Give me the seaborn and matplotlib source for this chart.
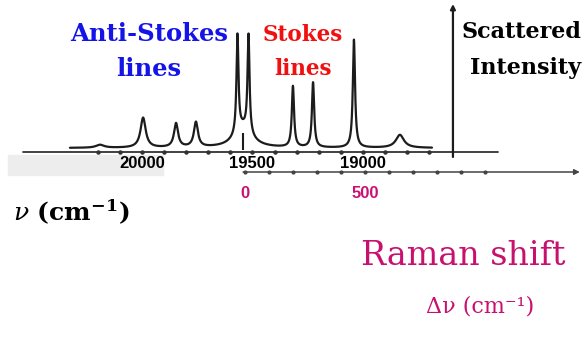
import numpy as np
import pandas as pd
import matplotlib
matplotlib.use("Agg")
import matplotlib.pyplot as plt
import seaborn as sns
from matplotlib.patches import Rectangle

# ---------------- data ----------------
# peaks of the spectrum: wavenumber (cm-1), height above baseline, half width (cm-1)
peak_centers = [20190, 19995, 19846, 19756, 19568, 19518, 19543, 19317, 19226, 19041, 18833]
peak_heights = [3, 30, 24, 25, 98, 98, 20, 61, 65, 108, 13]
peak_hwhm = [22, 14, 11, 11, 5.4, 5.4, 45, 6, 6, 6, 22]
baseline_level = 4
spectrum_range = [20326, 18688]          # wavenumber range covered by the trace
rayleigh_line = 19543                    # laser line (Raman shift 0)

top_tick_values = [20000, 19500, 19000]
top_tick_labels = ["20000", "19500", "19000"]
top_minor = list(range(20200, 18600, -100))
raman_tick_values = [0, 500]
raman_tick_labels = ["0", "500"]
raman_minor = list(range(0, 1100, 100))

# ---------------- build trace ----------------
nu = np.linspace(spectrum_range[0], spectrum_range[1], 4000)
inten = np.full_like(nu, baseline_level, dtype=float)
for c, h, w in zip(peak_centers, peak_heights, peak_hwhm):
    inten += h / (1 + ((nu - c) / w) ** 2)
df = pd.DataFrame({"nu": nu, "I": inten})

# ---------------- figure ----------------
sns.set_theme(style="white")
plt.rcParams['font.family'] = ['DejaVu Serif', 'DejaVu Sans']
plt.rcParams['mathtext.fontset'] = 'dejavuserif'

W, H = 587, 348
fig = plt.figure(figsize=(W / 100, H / 100), dpi=100)
fig.patch.set_facecolor("white")

def P(x, y):
    return (x / W, 1 - y / H)

ax = fig.add_axes([0, 0, 1, 1])
ax.patch.set_alpha(0)
k = 0.221  # px per cm-1 on the absolute scale
ax.set_xlim(20000 + 142 / k, 20000 - (W - 142) / k)
ax.set_ylim(-(H - 152), 152)
ax.axis("off")

# background band behind left tick labels
ax.add_patch(Rectangle((8 / W, 1 - 175 / H), (163 - 8) / W, 20 / H,
                       transform=ax.transAxes, color="#ededed", zorder=0))

ax2 = fig.add_axes([0, 0, 1, 1])
ax2.patch.set_alpha(0)
k2 = 0.24  # px per cm-1 on Raman shift scale
ax2.set_xlim(-245 / k2, (W - 245) / k2)
ax2.set_ylim(-(H - 152), 152)
ax2.axis("off")

dark = "#1c1c1c"
# absolute wavenumber axis
ax.plot([20538, 18389], [0, 0], color="#333333", lw=1.3, zorder=2)
ax.plot(top_minor, [0] * len(top_minor), "o", color="#333333", ms=2.2, zorder=3)
# spectrum
sns.lineplot(data=df, x="nu", y="I", ax=ax, color=dark, linewidth=1.6,
             sort=False, estimator=None, zorder=4)
ax.vlines(rayleigh_line, 2, 19, color=dark, lw=1.5, zorder=4)
# intensity axis
ax.annotate("", xy=(18593, 148), xytext=(18593, -5),
            arrowprops=dict(arrowstyle="-|>", color=dark, lw=1.6,
                            mutation_scale=7, shrinkA=0, shrinkB=0))
for v, lab in zip(top_tick_values, top_tick_labels):
    ax.text(v, -12, lab, ha="center", va="center", fontsize=12, fontweight="bold",
            family="Liberation Sans", color="black", zorder=5)

# Raman shift axis
ax2.annotate("", xy=(1395, -20), xytext=(-8, -20),
             arrowprops=dict(arrowstyle="-|>", color="#444444", lw=1.1,
                             mutation_scale=8, shrinkA=0, shrinkB=0))
ax2.plot(raman_minor, [-20] * len(raman_minor), "o", color="#444444", ms=2.0)
for v, lab in zip(raman_tick_values, raman_tick_labels):
    ax2.text(v, -41, lab, ha="center", va="center", fontsize=12, fontweight="bold",
             family="Liberation Sans", color="#cc0f73")

# annotations
blue, red, mag = "#1414e8", "#f01010", "#c8106e"
ax.text(*P(149, 34), "Anti-Stokes", transform=ax.transAxes, ha="center", va="center",
        fontsize=17.5, fontweight="bold", color=blue)
ax.text(*P(149, 69), "lines", transform=ax.transAxes, ha="center", va="center",
        fontsize=17.5, fontweight="bold", color=blue)
ax.text(*P(303, 35), "Stokes", transform=ax.transAxes, ha="center", va="center",
        fontsize=15.5, fontweight="bold", color=red)
ax.text(*P(303, 69), "lines", transform=ax.transAxes, ha="center", va="center",
        fontsize=15.5, fontweight="bold", color=red)
ax.text(*P(521, 32), "Scattered", transform=ax.transAxes, ha="center", va="center",
        fontsize=16, fontweight="bold", color="black")
ax.text(*P(526, 68), "Intensity", transform=ax.transAxes, ha="center", va="center",
        fontsize=16, fontweight="bold", color="black")
ax.text(*P(13, 212), r"$\nu$ (cm$^{\mathregular{-1}}$)", transform=ax.transAxes,
        ha="left", va="center", fontsize=18, fontweight="bold", color="black")
ax.text(*P(463, 256), "Raman shift", transform=ax.transAxes, ha="center", va="center",
        fontsize=24, color=mag)
ax.text(*P(480, 307), "Δν (cm⁻¹)", transform=ax.transAxes, ha="center", va="center",
        fontsize=16, color=mag)

fig.savefig("out.png", dpi=100, facecolor="white")
